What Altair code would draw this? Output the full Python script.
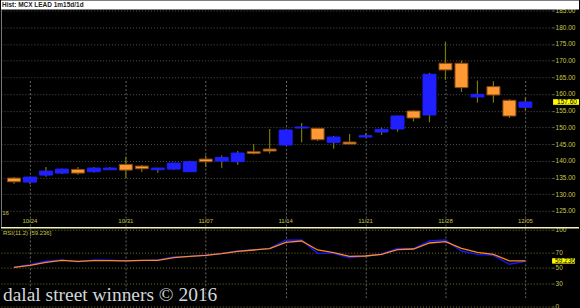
import altair as alt
import pandas as pd

dates = ["10/21","10/24","10/25","10/26","10/27","10/28","10/30","10/31","11/01","11/02",
         "11/03","11/04","11/07","11/08","11/09","11/10","11/11","11/14","11/15","11/16",
         "11/17","11/18","11/21","11/22","11/23","11/24","11/25","11/28","11/29","11/30",
         "12/01","12/02","12/05"]
opens = [134.8,133.6,135.7,136.3,137.4,136.7,137.3,138.9,138.4,137.3,137.5,136.7,140.5,139.9,
         139.7,142.7,143.5,144.7,149.8,149.7,145.5,145.6,147.1,148.6,149.5,154.9,153.7,169.2,
         169.2,159.1,162.2,158.1,156.0]
highs = [135.1,135.2,138.1,137.6,138.1,138.1,138.1,141.2,138.7,137.9,139.4,140.0,141.6,141.6,
         142.9,145.0,149.5,149.3,151.3,149.8,147.4,148.0,148.2,149.9,153.5,155.1,166.3,175.7,
         170.0,164.0,163.8,158.4,159.0]
lows = [133.1,133.0,135.2,136.0,135.8,136.5,137.2,134.8,136.6,136.4,137.3,136.6,138.1,137.9,
        138.8,141.9,142.2,144.6,145.5,145.9,143.6,145.0,147.0,147.7,148.7,151.8,151.5,164.2,
        160.6,157.4,157.4,152.8,155.1]
closes = [133.7,135.1,136.9,137.5,136.3,137.8,137.8,137.2,137.6,137.8,139.3,139.7,139.7,141.0,
          142.3,142.2,142.9,149.2,150.1,146.3,147.1,145.0,147.5,149.4,153.4,152.8,165.9,167.2,
          161.9,159.9,159.7,153.4,157.6]
rsi = [50.8,54.3,58.6,60.4,57.8,60.4,59.9,59.1,59.5,60.4,64.2,65.0,66.8,68.9,72.0,73.3,75.4,
       86.0,86.3,68.9,68.9,63.0,65.5,68.1,75.4,75.0,85.0,86.3,72.0,67.6,66.3,54.7,58.6]
rsi_signal = [50.8,53.4,57.3,59.9,58.6,59.5,59.5,59.1,59.9,59.9,63.3,65.0,66.3,68.5,71.5,73.3,
              75.0,83.3,85.0,73.3,69.8,65.0,65.5,67.6,73.7,74.6,82.4,84.1,75.4,70.2,67.6,59.1,59.2]

week_idx = [1, 7, 12, 17, 22, 27, 32]
week_labels = ["10/24", "10/31", "11/07", "11/14", "11/21", "11/28", "12/05"]
price_ticks = [125, 130, 135, 140, 145, 150, 155, 160, 165, 170, 175, 180, 185]
rsi_ticks = [0, 30, 50, 70, 100]
last_price = 157.60
last_rsi = 59.236

OLIVE = "#c8c84a"
BLUE = "#1f1fff"
ORANGE = "#ff9933"
FONT = "Liberation Sans"

df = pd.DataFrame({"idx": list(range(len(dates))), "date": dates, "open": opens,
                   "high": highs, "low": lows, "close": closes,
                   "rsi": rsi, "sig": rsi_signal})
df["dir"] = ["up" if c >= o else "down" for o, c in zip(opens, closes)]
df["blo"] = [min(o, c) for o, c in zip(opens, closes)]
df["bhi"] = [max(o, c) for o, c in zip(opens, closes)]

wk = pd.DataFrame({"idx": week_idx, "label": week_labels})

X = alt.X("idx:Q",
          scale=alt.Scale(domain=[-0.5, 33.36], nice=False, zero=False),
          axis=alt.Axis(values=week_idx, grid=True, gridColor="#666666", gridDash=[2, 2],
                        gridWidth=1, labels=False, ticks=False, domain=False, title=None,
                        zindex=0))

price_scale = alt.Scale(domain=[120, 185], range=[227.75, 10], nice=False, zero=False)
price_axis = alt.Axis(orient="right", values=price_ticks, format=".2f", grid=True,
                      gridColor="#505050", gridDash=[1, 2], tickColor="#777777", tickSize=2,
                      labelColor=OLIVE, labelFont=FONT, labelFontSize=6.5, labelPadding=1,
                      domain=False, title=None, zindex=0)

base = alt.Chart(df)

wicks = base.mark_rule(color="#7a7a00", strokeWidth=1.2).encode(
    x=X, y=alt.Y("low:Q", scale=price_scale, axis=price_axis), y2="high:Q")

bodies = base.mark_bar(size=13, strokeWidth=1).encode(
    x=X,
    y=alt.Y("blo:Q", scale=price_scale, axis=price_axis), y2="bhi:Q",
    fill=alt.Fill("dir:N", scale=alt.Scale(domain=["up", "down"], range=[BLUE, ORANGE]),
                  legend=None),
    stroke=alt.Stroke("dir:N", scale=alt.Scale(domain=["up", "down"], range=[BLUE, "#8a4a12"]),
                      legend=None))

date_text = alt.Chart(wk).mark_text(color=OLIVE, font=FONT, fontSize=6, align="center",
                                    baseline="middle").encode(
    x=X, y=alt.value(221), text="label:N")

year_text = alt.Chart(pd.DataFrame({"t": ["'16"]})).mark_text(
    color=OLIVE, font=FONT, fontSize=6, align="left", baseline="middle").encode(
    x=alt.value(0), y=alt.value(213), text="t:N")

lp = pd.DataFrame({"lo": [last_price - 0.85], "hi": [last_price + 0.85], "v": [last_price],
                   "t": [f"{last_price:.2f}"]})
lp_box = alt.Chart(lp).mark_rect(color="#ffff00").encode(
    x=alt.value(554), x2=alt.value(580),
    y=alt.Y("lo:Q", scale=price_scale, axis=price_axis), y2="hi:Q")
lp_text = alt.Chart(lp).mark_text(color="#000000", font=FONT, fontSize=6.5, align="left",
                                  baseline="middle").encode(
    x=alt.value(558), y=alt.Y("v:Q", scale=price_scale, axis=price_axis), text="t:N")

strip = alt.Chart(pd.DataFrame({"t": ["Hist: MCX LEAD 1m15d/1d"]})).mark_rect(
    color="#ffffff").encode(x=alt.value(0), x2=alt.value(580), y=alt.value(0), y2=alt.value(9))
strip_text = alt.Chart(pd.DataFrame({"t": ["Hist: MCX LEAD 1m15d/1d"]})).mark_text(
    color="#202020", font=FONT, fontSize=6.5, fontWeight="bold", align="left",
    baseline="middle").encode(x=alt.value(1), y=alt.value(4.5), text="t:N")

edge = alt.Chart(pd.DataFrame({"t": [0]})).mark_rule(color="#777777", strokeWidth=1).encode(
    x=alt.value(0.5), y=alt.value(9), y2=alt.value(227))

separator = alt.Chart(pd.DataFrame({"t": [0]})).mark_rule(color="#f2f2b8", strokeWidth=1.5).encode(
    x=alt.value(0), x2=alt.value(580), y=alt.value(228))

price_layer = alt.layer(wicks, bodies, date_text, year_text, lp_box, lp_text, edge)

rsi_scale = alt.Scale(domain=[0, 100], range=[306.9, 229.7], nice=False, zero=False)
rsi_axis = alt.Axis(orient="right", values=rsi_ticks, grid=True, gridColor="#75752a",
                    gridDash=[1, 2], tickColor="#75752a", tickSize=2, labelColor=OLIVE,
                    labelFont=FONT, labelFontSize=6.5, labelPadding=1, domain=False,
                    title=None, zindex=0)

rsi_line = base.mark_line(color="#1515ff", strokeWidth=1.4).encode(
    x=X, y=alt.Y("rsi:Q", scale=rsi_scale, axis=rsi_axis))
sig_line = base.mark_line(color="#ff8c1a", strokeWidth=1.3).encode(
    x=X, y=alt.Y("sig:Q", scale=rsi_scale, axis=rsi_axis))

lr = pd.DataFrame({"lo": [55.6], "hi": [62.6], "v": [last_rsi], "t": [f"{last_rsi:.3f}"]})
lr_box = alt.Chart(lr).mark_rect(color="#ffff00").encode(
    x=alt.value(553), x2=alt.value(576),
    y=alt.Y("lo:Q", scale=rsi_scale, axis=rsi_axis), y2="hi:Q")
lr_text = alt.Chart(lr).mark_text(color="#000000", font=FONT, fontSize=6.5, align="left",
                                  baseline="middle").encode(
    x=alt.value(556), y=alt.Y("v:Q", scale=rsi_scale, axis=rsi_axis), text="t:N")

rsi_title = alt.Chart(pd.DataFrame({"t": [f"RSI(11.2) [{last_rsi:.3f}]"]})).mark_text(
    color=OLIVE, font=FONT, fontSize=6, align="left", baseline="middle").encode(
    x=alt.value(2), y=alt.value(233), text="t:N")

watermark = alt.Chart(pd.DataFrame({"t": ["dalal street winners \u00a9 2016"]})).mark_text(
    color="#d3d7da", font="Liberation Serif", fontSize=19.5, align="left",
    baseline="alphabetic").encode(x=alt.value(2), y=alt.value(302), text="t:N")

rsi_layer = alt.layer(rsi_line, sig_line, lr_box, lr_text, rsi_title, watermark)

chart = alt.layer(price_layer, rsi_layer, separator, strip, strip_text).resolve_scale(
    y="independent"
).properties(width=553, height=308, padding=0, background="#000000").configure_view(
    strokeWidth=0, fill="#000000")

chart.save("out.html", embed_options={"renderer": "svg", "actions": False})
